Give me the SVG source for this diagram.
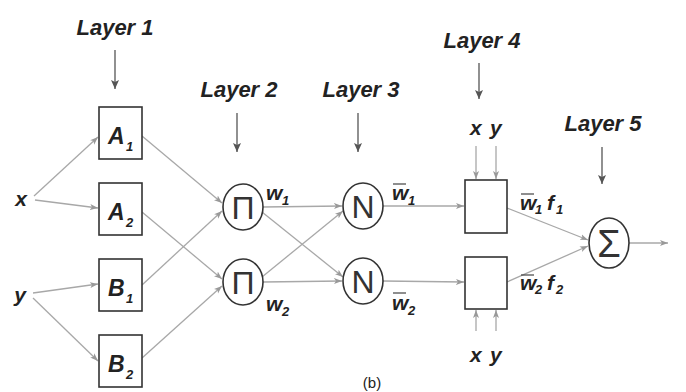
<svg xmlns="http://www.w3.org/2000/svg" width="686" height="392" viewBox="0 0 686 392">
<style>
.lbl{font-family:"Liberation Sans",Arial,sans-serif;font-weight:bold;font-style:italic;fill:#222}
.layer{font-size:22px}
.node{font-size:23px}
.sub{font-size:13px}
.var{font-size:21px}
.sym{font-family:"Liberation Sans",Arial,sans-serif;font-weight:normal;fill:#333;text-anchor:middle}
.box{fill:#fff;stroke:#333;stroke-width:1.6}
.circ{fill:#fff;stroke:#333;stroke-width:1.6}
.con{stroke:#a8a8a8;stroke-width:1.3;fill:none;marker-end:url(#ah)}
.lay{stroke:#555;stroke-width:1.3;fill:none;marker-end:url(#ahd)}
.ovl{stroke:#444;stroke-width:1.2}
</style>
<defs>
<marker id="ah" markerUnits="userSpaceOnUse" markerWidth="9" markerHeight="7" refX="8" refY="3.5" orient="auto">
<path d="M0,0.5 L8,3.5 L0,6.5 L2,3.5 z" fill="#999"/>
</marker>
<marker id="ahd" markerUnits="userSpaceOnUse" markerWidth="10" markerHeight="9" refX="9" refY="4.5" orient="auto">
<path d="M0,0.5 L9,4.5 L0,8.5 L2,4.5 z" fill="#555"/>
</marker>
</defs>
<rect width="686" height="392" fill="#fff"/>

<g id="layer-labels">
<text class="lbl layer" x="115" y="35" text-anchor="middle">Layer 1</text>
<text class="lbl layer" x="239" y="97" text-anchor="middle">Layer 2</text>
<text class="lbl layer" x="361" y="97" text-anchor="middle">Layer 3</text>
<text class="lbl layer" x="482" y="48" text-anchor="middle">Layer 4</text>
<text class="lbl layer" x="603" y="131" text-anchor="middle">Layer 5</text>
<line class="lay" x1="115" y1="50" x2="115" y2="89"/>
<line class="lay" x1="237" y1="113" x2="237" y2="152"/>
<line class="lay" x1="358" y1="113" x2="358" y2="152"/>
<line class="lay" x1="479" y1="63" x2="479" y2="99"/>
<line class="lay" x1="602" y1="147" x2="602" y2="184"/>
</g>

<g id="connectors">
<line class="con" x1="34" y1="196" x2="98" y2="137"/>
<line class="con" x1="35" y1="200" x2="98" y2="208"/>
<line class="con" x1="33" y1="293" x2="98" y2="284"/>
<line class="con" x1="33" y1="298" x2="98" y2="361"/>
<line class="con" x1="142" y1="136" x2="222" y2="203"/>
<line class="con" x1="142" y1="285" x2="222" y2="211"/>
<line class="con" x1="142" y1="212" x2="222" y2="279"/>
<line class="con" x1="142" y1="358" x2="222" y2="286"/>
<line class="con" x1="263" y1="207" x2="342" y2="206"/>
<line class="con" x1="262" y1="212" x2="343" y2="277"/>
<line class="con" x1="262" y1="277" x2="343" y2="211"/>
<line class="con" x1="263" y1="282" x2="342" y2="281"/>
<line class="con" x1="383" y1="206" x2="464" y2="206"/>
<line class="con" x1="383" y1="281" x2="464" y2="282"/>
<line class="con" x1="507" y1="208" x2="588" y2="240"/>
<line class="con" x1="507" y1="282" x2="588" y2="246"/>
<line class="con" x1="629" y1="243" x2="668" y2="243"/>
<line class="con" x1="476" y1="146" x2="476" y2="179"/>
<line class="con" x1="496" y1="146" x2="496" y2="179"/>
<line class="con" x1="476" y1="331" x2="476" y2="310"/>
<line class="con" x1="496" y1="331" x2="496" y2="310"/>
</g>

<g id="input-x"><text class="lbl var" x="21" y="206" text-anchor="middle">x</text></g>
<g id="input-y"><text class="lbl var" x="20" y="302" text-anchor="middle">y</text></g>

<g id="A1">
<rect class="box" x="99" y="107" width="43" height="52"/>
<text class="lbl node" x="108" y="144">A</text><text class="lbl sub" x="126" y="151">1</text>
</g>
<g id="A2">
<rect class="box" x="99" y="183" width="43" height="52"/>
<text class="lbl node" x="108" y="220">A</text><text class="lbl sub" x="126" y="227">2</text>
</g>
<g id="B1">
<rect class="box" x="99" y="259" width="43" height="52"/>
<text class="lbl node" x="108" y="296">B</text><text class="lbl sub" x="126" y="303">1</text>
</g>
<g id="B2">
<rect class="box" x="99" y="335" width="43" height="52"/>
<text class="lbl node" x="108" y="372">B</text><text class="lbl sub" x="126" y="379">2</text>
</g>

<g id="P1">
<ellipse class="circ" cx="243" cy="207" rx="20" ry="23"/>
<text class="sym" x="243" y="219" font-size="32">Π</text>
<text class="lbl var" x="266" y="200" font-size="19">w</text><text class="lbl sub" x="282" y="205">1</text>
</g>
<g id="P2">
<ellipse class="circ" cx="243" cy="282" rx="20" ry="23"/>
<text class="sym" x="243" y="294" font-size="32">Π</text>
<text class="lbl var" x="266" y="311" font-size="19">w</text><text class="lbl sub" x="282" y="316">2</text>
</g>

<g id="N1">
<ellipse class="circ" cx="363" cy="206" rx="20" ry="23"/>
<text class="sym" x="363" y="218" font-size="32">N</text>
<line class="ovl" x1="393" y1="184" x2="406" y2="184"/>
<text class="lbl var" x="392" y="200" font-size="19">w</text><text class="lbl sub" x="408" y="205">1</text>
</g>
<g id="N2">
<ellipse class="circ" cx="363" cy="281" rx="20" ry="23"/>
<text class="sym" x="363" y="293" font-size="32">N</text>
<line class="ovl" x1="393" y1="293" x2="406" y2="293"/>
<text class="lbl var" x="392" y="310" font-size="19">w</text><text class="lbl sub" x="408" y="315">2</text>
</g>

<g id="R1">
<text class="lbl var" x="470" y="135">x</text><text class="lbl var" x="490" y="135">y</text>
<rect class="box" x="465" y="180" width="42" height="53"/>
<line class="ovl" x1="521" y1="194" x2="534" y2="194"/>
<text class="lbl var" x="520" y="210" font-size="19">w</text><text class="lbl sub" x="535" y="214">1</text>
<text class="lbl var" x="547" y="210" font-size="19">f</text><text class="lbl sub" x="556" y="214">1</text>
</g>
<g id="R2">
<rect class="box" x="465" y="257" width="42" height="52"/>
<line class="ovl" x1="521" y1="275" x2="534" y2="275"/>
<text class="lbl var" x="520" y="290" font-size="19">w</text><text class="lbl sub" x="535" y="294">2</text>
<text class="lbl var" x="547" y="290" font-size="19">f</text><text class="lbl sub" x="556" y="294">2</text>
<text class="lbl var" x="470" y="362">x</text><text class="lbl var" x="490" y="362">y</text>
</g>

<g id="S">
<ellipse class="circ" cx="609" cy="243" rx="20" ry="25"/>
<text class="sym" x="609" y="257" font-size="38">Σ</text>
</g>

<text x="372" y="388" font-family="Liberation Sans, Arial, sans-serif" font-size="15" fill="#222" text-anchor="middle">(b)</text>
</svg>
